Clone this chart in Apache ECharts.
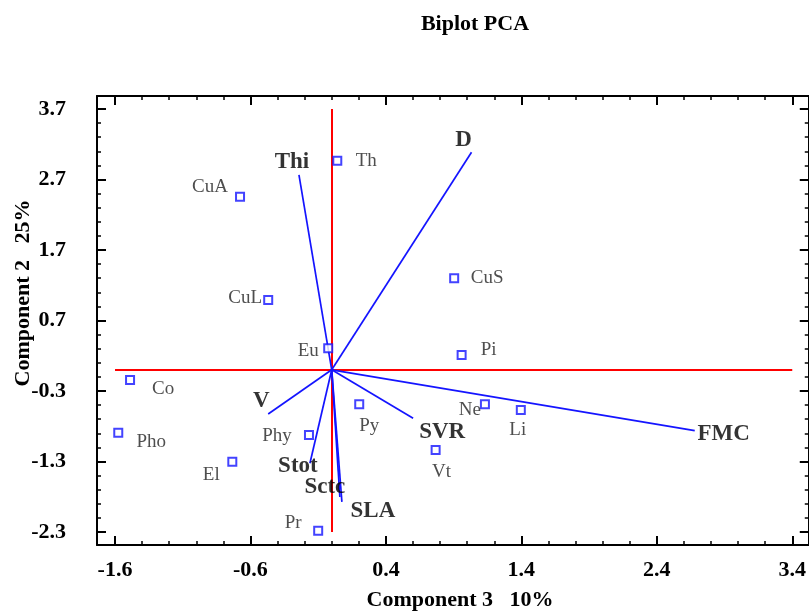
<!DOCTYPE html>
<html>
<head>
<meta charset="utf-8">
<script src="https://cdn.jsdelivr.net/npm/echarts@6/dist/echarts.min.js"></script>
<style>
html,body{margin:0;padding:0;background:#fff;}
#chart{width:809px;height:616px;}
</style>
</head>
<body>
<div id="chart"></div>
<script>
// ---- data ----
const pointNames = ['Th','CuA','CuL','Eu','CuS','Pi','Co','Pho','El','Phy','Pr','Py','Ne','Li','Vt'];
const pointX = [0.041,-0.677,-0.469,-0.026,0.904,0.959,-1.489,-1.576,-0.734,-0.168,-0.100,0.203,1.131,1.396,0.767];
const pointY = [2.967,2.456,0.991,0.306,1.299,0.211,-0.144,-0.891,-1.303,-0.924,-2.282,-0.489,-0.489,-0.570,-1.137];

const varNames = ['Thi','D','FMC','SVR','V','Stot','Sctc','SLA'];
const varX = [-0.242,1.032,2.680,0.601,-0.469,-0.161,0.060,0.075];
const varY = [2.764,3.086,-0.863,-0.687,-0.626,-1.326,-1.804,-1.874];

const xTicks = [-1.6,-0.6,0.4,1.4,2.4,3.4];
const yTicks = [-2.3,-1.3,-0.3,0.7,1.7,2.7,3.7];

// reference (red) axis lines through the origin
const refH = [[-1.6,0],[3.4,0]];
const refV = [[0,-2.3],[0,3.7]];

// ---- styles / layout (not data) ----
const pointLabelOffset = {
  Th:[29,0], CuA:[-30,-10], CuL:[-23,-2], Eu:[-20,3], CuS:[33,0], Pi:[27,-5],
  Co:[33,9], Pho:[33,9], El:[-21,13], Phy:[-32,1], Pr:[-25,-8], Py:[10,22],
  Ne:[-15,6], Li:[-3,20], Vt:[6,22]
};
const varLabelOffset = {
  Thi:[-7,-13], D:[-8,-12], FMC:[29,3], SVR:[29,14], V:[-7,-13],
  Stot:[-12,3], Sctc:[-15,-10], SLA:[31,9]
};

const XMIN = -1.733, XMAX = 3.522, YMIN = -2.485, YMAX = 3.884;
const SERIF = '"Liberation Serif","Times New Roman",serif';
const BLUE = '#1414ff';

function minors(ticks){
  const out=[];
  for(let i=0;i<ticks.length-1;i++){
    for(let k=1;k<5;k++){ out.push(+(ticks[i]+(ticks[i+1]-ticks[i])*k/5).toFixed(3)); }
  }
  return out;
}
const xMinor = minors(xTicks), yMinor = minors(yTicks);

function mkAxis(pos, min, max, major, minor, showLine, showLabel, isMinor, labelMargin){
  return {
    type:'value', position:pos, min:min, max:max, scale:false,
    axisLine:{show:showLine, onZero:false, lineStyle:{color:'#000', width:2}},
    axisTick:{show:true, inside:true, length:isMinor?4:9, customValues:isMinor?minor:major,
      lineStyle:{color:'#000', width:isMinor?1.5:2}},
    axisLabel:{show:showLabel, customValues:major, margin:labelMargin,
      formatter:v=>Number(v).toFixed(1),
      color:'#000', fontFamily:SERIF, fontWeight:'bold', fontSize:22},
    splitLine:{show:false}
  };
}

const chart = echarts.init(document.getElementById('chart'), null, {renderer:'canvas'});

const option = {
  animation:false,
  backgroundColor:'#fff',
  title:{
    text:'Biplot PCA', left:470, top:8, textAlign:'center',
    textStyle:{fontFamily:SERIF, fontWeight:'bold', fontSize:22, color:'#000'}
  },
  grid:{left:97, top:96, width:712, height:449, containLabel:false},
  xAxis:[
    mkAxis('bottom', XMIN, XMAX, xTicks, xMinor, true, true, false, 14),
    mkAxis('bottom', XMIN, XMAX, xTicks, xMinor, false, false, true, 0),
    mkAxis('top', XMIN, XMAX, xTicks, xMinor, true, false, false, 0),
    mkAxis('top', XMIN, XMAX, xTicks, xMinor, false, false, true, 0)
  ],
  yAxis:[
    mkAxis('left', YMIN, YMAX, yTicks, yMinor, true, true, false, 31),
    mkAxis('left', YMIN, YMAX, yTicks, yMinor, false, false, true, 0),
    mkAxis('right', YMIN, YMAX, yTicks, yMinor, true, false, false, 0),
    mkAxis('right', YMIN, YMAX, yTicks, yMinor, false, false, true, 0)
  ],
  graphic:[
    {type:'text', x:460, y:600, style:{text:'Component 3   10%', font:'bold 22px '+SERIF,
      textAlign:'center', textVerticalAlign:'middle', fill:'#000'}},
    {type:'text', x:23, y:293, rotation:Math.PI/2, style:{text:'Component 2   25%', font:'bold 22px '+SERIF,
      textAlign:'center', textVerticalAlign:'middle', fill:'#000'}}
  ],
  series:[
    {
      type:'lines', coordinateSystem:'cartesian2d', xAxisIndex:0, yAxisIndex:0,
      silent:true, z:2,
      lineStyle:{color:'#ff0000', width:2, opacity:1},
      data:[{coords:refH},{coords:refV}]
    },
    {
      type:'lines', coordinateSystem:'cartesian2d', xAxisIndex:0, yAxisIndex:0,
      silent:true, z:3,
      lineStyle:{color:BLUE, width:1.7, opacity:1},
      data:varNames.map((n,i)=>({coords:[[0,0],[varX[i],varY[i]]]}))
    },
    {
      type:'scatter', xAxisIndex:0, yAxisIndex:0, z:4, silent:true,
      symbolSize:0,
      label:{show:true, position:'inside', fontFamily:SERIF, fontWeight:'bold', fontSize:23,
        color:'#000', align:'center', verticalAlign:'middle'},
      data:varNames.map((n,i)=>({name:n, value:[varX[i],varY[i]],
        label:{formatter:n, offset:varLabelOffset[n]}}))
    },
    {
      type:'scatter', xAxisIndex:0, yAxisIndex:0, z:5, silent:true,
      symbol:'rect', symbolSize:8,
      itemStyle:{color:'#fff', borderColor:BLUE, borderWidth:2},
      label:{show:true, position:'inside', fontFamily:SERIF, fontSize:19,
        color:'#222', align:'center', verticalAlign:'middle'},
      data:pointNames.map((n,i)=>({name:n, value:[pointX[i],pointY[i]],
        label:{formatter:n, offset:pointLabelOffset[n]}}))
    }
  ]
};
chart.setOption(option);
</script>
</body>
</html>
